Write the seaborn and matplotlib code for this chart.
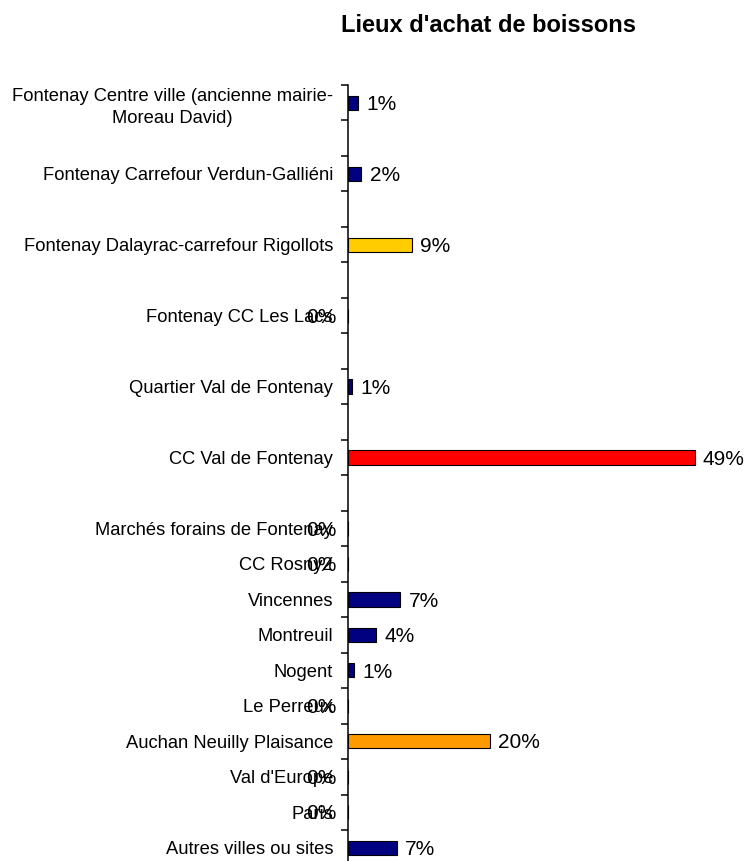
import numpy as np
import pandas as pd
import seaborn as sns
from matplotlib import pyplot as plt

categories = [
    "Fontenay Centre ville (ancienne mairie-\nMoreau David)",
    "Fontenay Carrefour Verdun-Galliéni",
    "Fontenay Dalayrac-carrefour Rigollots",
    "Fontenay CC Les Lacs",
    "Quartier Val de Fontenay",
    "CC Val de Fontenay",
    "Marchés forains de Fontenay",
    "CC Rosny2",
    "Vincennes",
    "Montreuil",
    "Nogent",
    "Le Perreux",
    "Auchan Neuilly Plaisance",
    "Val d'Europe",
    "Paris",
    "Autres villes ou sites",
]
values = [1.4, 1.9, 9.0, 0.0, 0.6, 48.9, 0.0, 0.0, 7.4, 4.0, 0.9, 0.0, 20.0, 0.0, 0.0, 6.9]
colors = ["#000080", "#000080", "#FFCC00", "#000080", "#000080", "#FF0000", "#000080", "#000080",
          "#000080", "#000080", "#000080", "#000080", "#FF9900", "#000080", "#000080", "#000080"]
# the source sheet had an empty row after each of the first six places
blank_after = 6

sns.set_style("white")
plt.rcParams["font.family"] = ["Liberation Sans", "DejaVu Sans"]
plt.rcParams["text.color"] = "black"
plt.rcParams["ytick.color"] = "black"
plt.rcParams["ytick.labelcolor"] = "black"

order = []
for i, c in enumerate(categories):
    order.append(c)
    if i < blank_after:
        order.append(f"_blank{i}")

df = pd.DataFrame({"lieu": categories, "pct": values})

fig = plt.figure(figsize=(7.46, 8.61), dpi=100)
ax = fig.add_axes([348 / 746, -4.5 / 861, 390 / 746, 780.5 / 861])

sns.barplot(data=df, y="lieu", x="pct", order=order, hue="lieu",
            palette=dict(zip(categories, colors)), legend=False,
            orient="h", width=0.4, edgecolor="black", linewidth=0.8,
            saturation=1, ax=ax)

ax.set_xlim(0, 55)
ax.set_xlabel("")
ax.set_ylabel("")
ax.xaxis.set_visible(False)
for s in ["top", "right", "bottom"]:
    ax.spines[s].set_visible(False)
ax.spines["left"].set_color("black")
ax.spines["left"].set_linewidth(1.1)

n = len(order)
ax.set_yticks(np.arange(-0.5, n, 1))
ax.set_yticklabels([])
pos = [order.index(c) for c in categories]
ax.set_yticks(pos, categories, minor=True)
ax.tick_params(axis="y", which="major", left=True, length=5, width=1.1,
               direction="out", color="black")
ax.tick_params(axis="y", which="minor", left=True, length=0, pad=10.8,
               labelsize=13.2, labelcolor="black")
for t in ax.get_yticklabels(minor=True):
    t.set_multialignment("center")
    t.set_linespacing(1.4)
ax.set_ylim(n - 0.5, -0.5)

for p, v in zip(pos, values):
    label = f"{v:.0f}%"
    if v > 0:
        ax.annotate(label, (v, p), xytext=(5.8, -1.2), textcoords="offset points",
                    ha="left", va="center", fontsize=15, annotation_clip=False)
    else:
        ax.annotate(label, (0, p), xytext=(-8, -1.2), textcoords="offset points",
                    ha="right", va="center", fontsize=15, annotation_clip=False)

fig.text(488.5 / 746, 1 - 32 / 861, "Lieux d'achat de boissons", ha="center",
         va="baseline", fontsize=17, fontweight="bold")

fig.savefig("out.png", dpi=100)
